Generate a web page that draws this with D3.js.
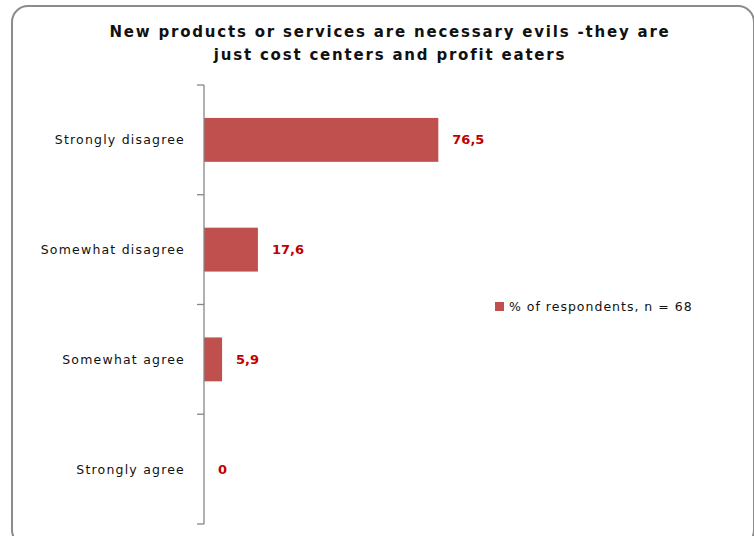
<!DOCTYPE html>
<html lang="en">
<head>
  <meta charset="UTF-8">
  <title>New products or services are necessary evils</title>
  <script src="https://d3js.org/d3.v7.min.js"></script>
  <style>
    body { margin: 0; background: #fff; }
    svg { display: block; }
  </style>
</head>
<body>
<div id="chart"></div>
<script>
// chart data
const categories = ["Strongly disagree", "Somewhat disagree", "Somewhat agree", "Strongly agree"];
const values = [76.5, 17.6, 5.9, 0];
const valueLabels = ["76,5", "17,6", "5,9", "0"];
const seriesName = "% of respondents, n = 68";
const titleLines = ["New products or services are necessary evils -they are", "just cost centers and profit eaters"];

const W = 754, H = 536;
const svg = d3.select("#chart").append("svg")
  .attr("width", W)
  .attr("height", H);

// chart frame with rounded corners
svg.append("rect")
  .attr("x", 12).attr("y", 6)
  .attr("width", 742).attr("height", 540)
  .attr("rx", 16)
  .attr("fill", "#fff")
  .attr("stroke", "#8c8c8c")
  .attr("stroke-width", 2);

// title
svg.append("g").selectAll("text")
  .data(titleLines)
  .enter().append("text")
  .attr("x", 390)
  .attr("y", (d, i) => 37 + i * 23)
  .attr("text-anchor", "middle")
  .style("font-family", "'DejaVu Sans', sans-serif")
  .style("font-size", "15px")
  .style("font-weight", "bold")
  .style("letter-spacing", "1.8px")
  .style("fill", "#111")
  .text(d => d);

// scales
const x = d3.scaleLinear().domain([0, 100]).range([204, 510.3]);
const y = d3.scaleBand().domain(categories).range([85, 524])
  .paddingInner(0.6).paddingOuter(0.3);

// bars
svg.append("g").selectAll("rect")
  .data(values)
  .enter().append("rect")
  .attr("x", x(0))
  .attr("y", (d, i) => y(categories[i]))
  .attr("width", d => x(d) - x(0))
  .attr("height", y.bandwidth())
  .attr("fill", "#C0504D");

// value labels
svg.append("g").selectAll("text")
  .data(values)
  .enter().append("text")
  .attr("x", d => x(d) + 14)
  .attr("y", (d, i) => y(categories[i]) + y.bandwidth() / 2)
  .attr("dy", "0.35em")
  .style("font-family", "'DejaVu Sans', sans-serif")
  .style("font-size", "13px")
  .style("font-weight", "bold")
  .style("fill", "#C00000")
  .text((d, i) => valueLabels[i]);

// category axis (line, ticks between categories, labels)
const axis = svg.append("g");
const step = y.step();
const y0 = y.range()[0];
axis.append("line")
  .attr("x1", x(0)).attr("x2", x(0))
  .attr("y1", y0).attr("y2", y.range()[1])
  .attr("stroke", "#868686").attr("stroke-width", 1.3);
axis.selectAll(".tk")
  .data(d3.range(categories.length + 1))
  .enter().append("line")
  .attr("x1", x(0) - 7).attr("x2", x(0))
  .attr("y1", i => y0 + i * step).attr("y2", i => y0 + i * step)
  .attr("stroke", "#868686").attr("stroke-width", 1.3);
axis.selectAll(".lbl")
  .data(categories)
  .enter().append("text")
  .attr("x", 185)
  .attr("y", d => y(d) + y.bandwidth() / 2)
  .attr("dy", "0.35em")
  .attr("text-anchor", "end")
  .style("font-family", "'DejaVu Sans', sans-serif")
  .style("font-size", "12.5px")
  .style("letter-spacing", "1.2px")
  .style("fill", "#111")
  .text(d => d);

// legend
const legend = svg.append("g").attr("transform", "translate(495,302)");
legend.append("rect")
  .attr("width", 9).attr("height", 9)
  .attr("fill", "#C0504D");
legend.append("text")
  .attr("x", 14).attr("y", 4.5)
  .attr("dy", "0.35em")
  .style("font-family", "'DejaVu Sans', sans-serif")
  .style("font-size", "12.5px")
  .style("letter-spacing", "1px")
  .style("fill", "#111")
  .text(seriesName);
</script>
</body>
</html>
